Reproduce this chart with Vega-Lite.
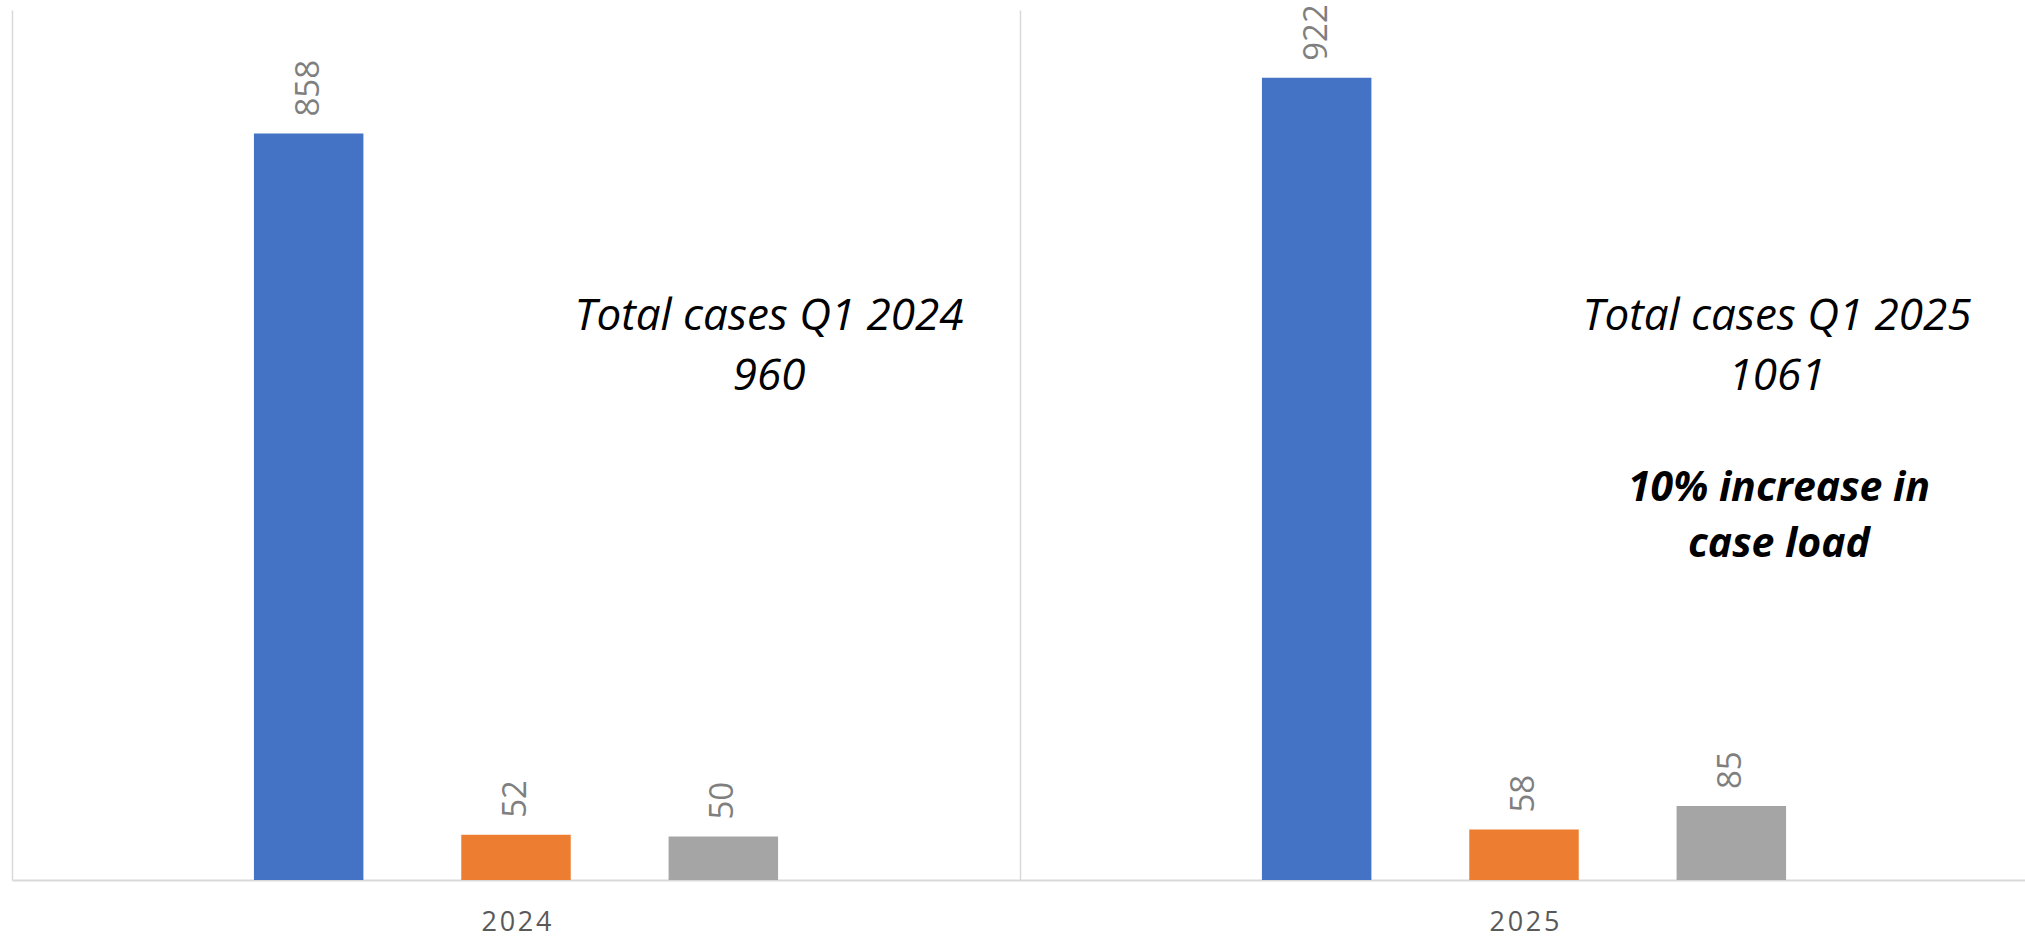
{
  "$schema": "https://vega.github.io/schema/vega-lite/v6.json",
  "width": 2016,
  "height": 870,
  "autosize": "none",
  "padding": {"left": 12, "top": 10, "right": 0, "bottom": 57},
  "background": "white",
  "config": {"view": {"stroke": null}},
  "datasets": {
    "bars": [
      {"year": "2024", "series": "Series 1", "value": 858},
      {"year": "2024", "series": "Series 2", "value": 52},
      {"year": "2024", "series": "Series 3", "value": 50},
      {"year": "2025", "series": "Series 1", "value": 922},
      {"year": "2025", "series": "Series 2", "value": 58},
      {"year": "2025", "series": "Series 3", "value": 85}
    ],
    "notes": [
      {"year": "2024", "pos": 632, "label": "Total cases Q1 2024\n960", "kind": "normal"},
      {"year": "2025", "pos": 632, "label": "Total cases Q1 2025\n1061", "kind": "normal"},
      {"year": "2025", "pos": 436, "label": "10% increase in\ncase load", "kind": "bold"}
    ]
  },
  "layer": [
    {
      "data": {"name": "bars"},
      "mark": {"type": "bar"},
      "encoding": {
        "x": {
          "field": "year", "type": "nominal",
          "scale": {"paddingInner": 0, "paddingOuter": 0},
          "axis": {
            "title": null, "labelAngle": 0, "ticks": false, "tickBand": "extent",
            "grid": true, "gridColor": "#d9d9d9", "gridWidth": 1.5,
            "domainColor": "#d9d9d9", "domainWidth": 2,
            "labelFont": "Open Sans", "labelFontSize": 27, "labelColor": "#595959",
            "labelBaseline": "alphabetic", "labelPadding": 50,
            "labelExpr": "join(split(datum.label, ''), '\u200a')"
          }
        },
        "xOffset": {
          "field": "series", "type": "nominal",
          "scale": {"range": [193, 815], "paddingInner": 0.472, "paddingOuter": 0.236}
        },
        "y": {
          "field": "value", "type": "quantitative",
          "scale": {"domain": [0, 1000], "nice": false},
          "axis": null
        },
        "color": {
          "field": "series", "type": "nominal",
          "scale": {"domain": ["Series 1", "Series 2", "Series 3"], "range": ["#4472C4", "#ED7D31", "#A5A5A5"]},
          "legend": null
        }
      }
    },
    {
      "data": {"name": "bars"},
      "mark": {
        "type": "text", "angle": 270, "align": "left", "baseline": "middle", "dx": 17,
        "font": "Open Sans", "fontSize": 33, "color": "#7f7f7f"
      },
      "encoding": {
        "x": {"field": "year", "type": "nominal"},
        "xOffset": {"field": "series", "type": "nominal"},
        "y": {"field": "value", "type": "quantitative"},
        "text": {"field": "value", "type": "quantitative"}
      }
    },
    {
      "data": {"name": "notes"},
      "transform": [{"filter": "datum.kind === 'normal'"}],
      "mark": {
        "type": "text", "align": "center", "baseline": "alphabetic", "dx": 253,
        "font": "Open Sans", "fontSize": 44, "fontStyle": "italic", "color": "black",
        "lineBreak": "\n", "lineHeight": 60
      },
      "encoding": {
        "x": {"field": "year", "type": "nominal"},
        "y": {"field": "pos", "type": "quantitative"},
        "text": {"field": "label", "type": "nominal"}
      }
    },
    {
      "data": {"name": "notes"},
      "transform": [{"filter": "datum.kind === 'bold'"}],
      "mark": {
        "type": "text", "align": "center", "baseline": "alphabetic", "dx": 255,
        "font": "Open Sans", "fontSize": 41, "fontStyle": "italic", "fontWeight": "bold", "color": "black",
        "lineBreak": "\n", "lineHeight": 56
      },
      "encoding": {
        "x": {"field": "year", "type": "nominal"},
        "y": {"field": "pos", "type": "quantitative"},
        "text": {"field": "label", "type": "nominal"}
      }
    }
  ]
}
